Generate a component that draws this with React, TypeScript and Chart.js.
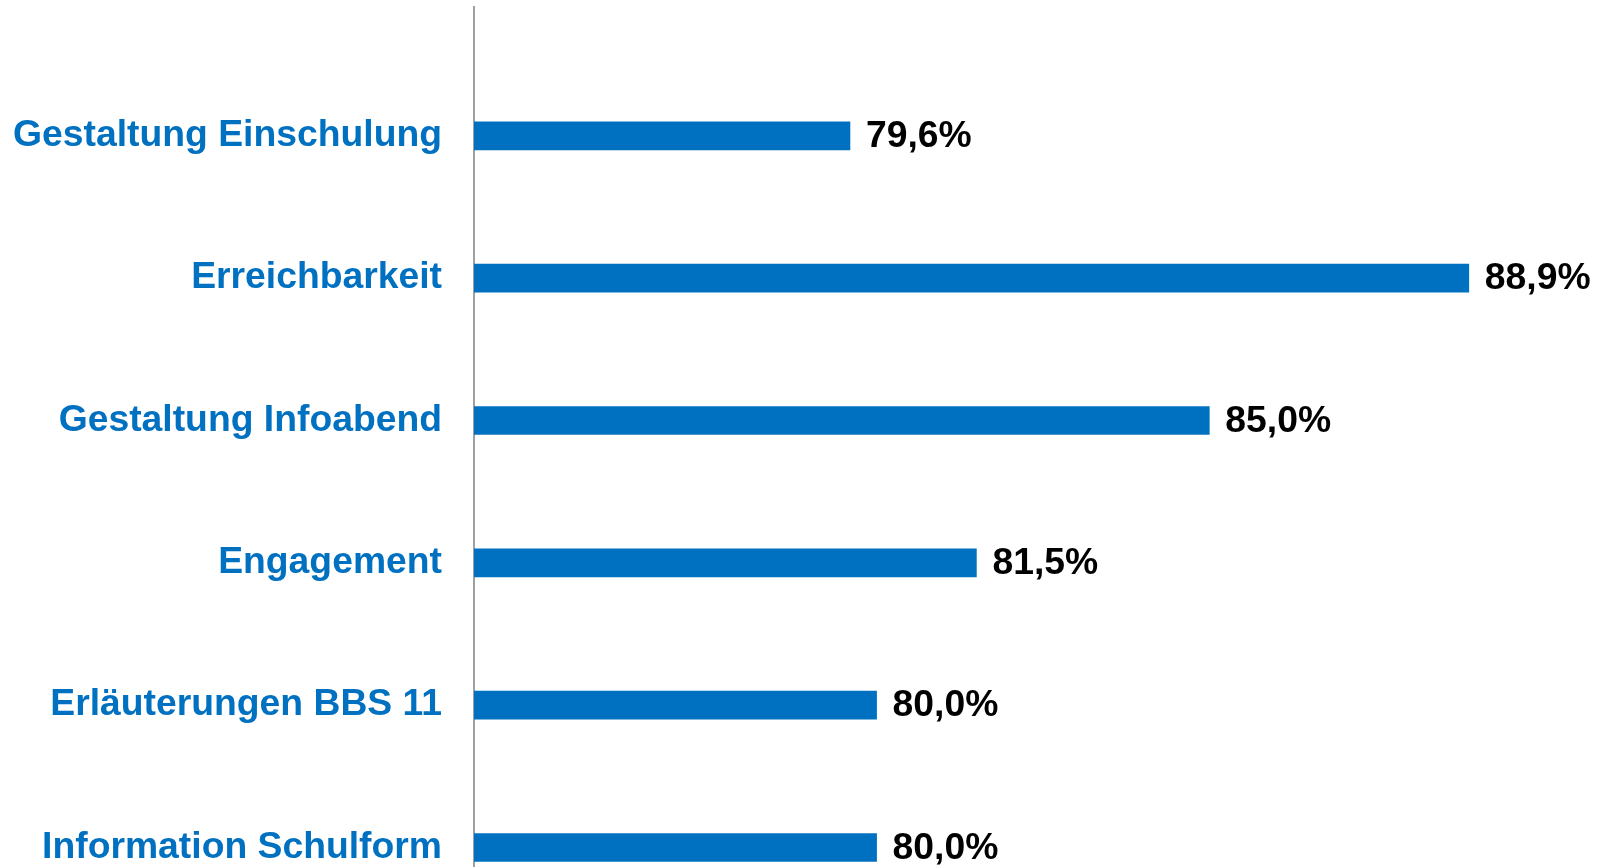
import React, { useEffect, useRef } from "react";
import { Chart, registerables } from "chart.js";

Chart.register(...registerables);

const categories = [
  "Gestaltung Einschulung",
  "Erreichbarkeit",
  "Gestaltung Infoabend",
  "Engagement",
  "Erläuterungen BBS 11",
  "Information Schulform",
];
const values = [79.6, 88.9, 85.0, 81.5, 80.0, 80.0];

const BLUE = "#0070C0";
const FONT = "'Liberation Sans', Arial, sans-serif";

const fmt = (v: number) => v.toFixed(1).replace(".", ",") + "%";

const valueLabels = {
  id: "valueLabels",
  afterDatasetsDraw(chart: any) {
    const ctx = chart.ctx;
    const meta = chart.getDatasetMeta(0);
    ctx.save();
    ctx.font = `bold 37.3px ${FONT}`;
    ctx.fillStyle = "#000000";
    ctx.textAlign = "left";
    ctx.textBaseline = "middle";
    meta.data.forEach((bar: any, i: number) => {
      ctx.fillText(fmt(values[i]), bar.x + 16, bar.y + 1);
    });
    ctx.restore();
  },
};

export default function App() {
  const ref = useRef<HTMLCanvasElement | null>(null);

  useEffect(() => {
    document.body.style.margin = "0";
    const canvas = ref.current;
    if (!canvas) return;
    const chart = new Chart(canvas, {
      type: "bar",
      data: {
        datasets: [
          {
            data: values.map((v, i) => ({ x: v, y: i })),
            backgroundColor: BLUE,
            borderWidth: 0,
            barThickness: 28,
          },
        ],
      },
      options: {
        indexAxis: "y",
        animation: false,
        responsive: false,
        maintainAspectRatio: false,
        devicePixelRatio: 1,
        layout: { padding: { left: 0, right: 64, top: 7, bottom: 0 } },
        plugins: {
          legend: { display: false },
          tooltip: { enabled: false },
        },
        scales: {
          x: {
            type: "linear",
            display: false,
            min: 73.95,
            max: 90,
          },
          y: {
            type: "linear",
            reverse: true,
            offset: false,
            bounds: "data",
            min: -0.905,
            max: 5.137,
            grid: { display: false, drawTicks: false, offset: false },
            border: { display: true, color: "#a0a0a0", width: 2 },
            afterBuildTicks: (scale: any) => {
              scale.ticks = categories.map((_, i) => ({ value: i }));
            },
            afterFit: (scale: any) => {
              scale.width = 474;
              scale.paddingTop = 0;
              scale.paddingBottom = 0;
            },
            ticks: {
              autoSkip: false,
              padding: 32,
              color: BLUE,
              font: { family: FONT, size: 37.3, weight: "bold" },
              callback: (v: any) => categories[v] ?? "",
            },
          },
        },
      } as any,
      plugins: [valueLabels],
    });
    return () => chart.destroy();
  }, []);

  return (
    <div style={{ position: "fixed", left: 0, top: 0, width: 1606, height: 867 }}>
      <canvas ref={ref} width={1606} height={867} />
    </div>
  );
}
